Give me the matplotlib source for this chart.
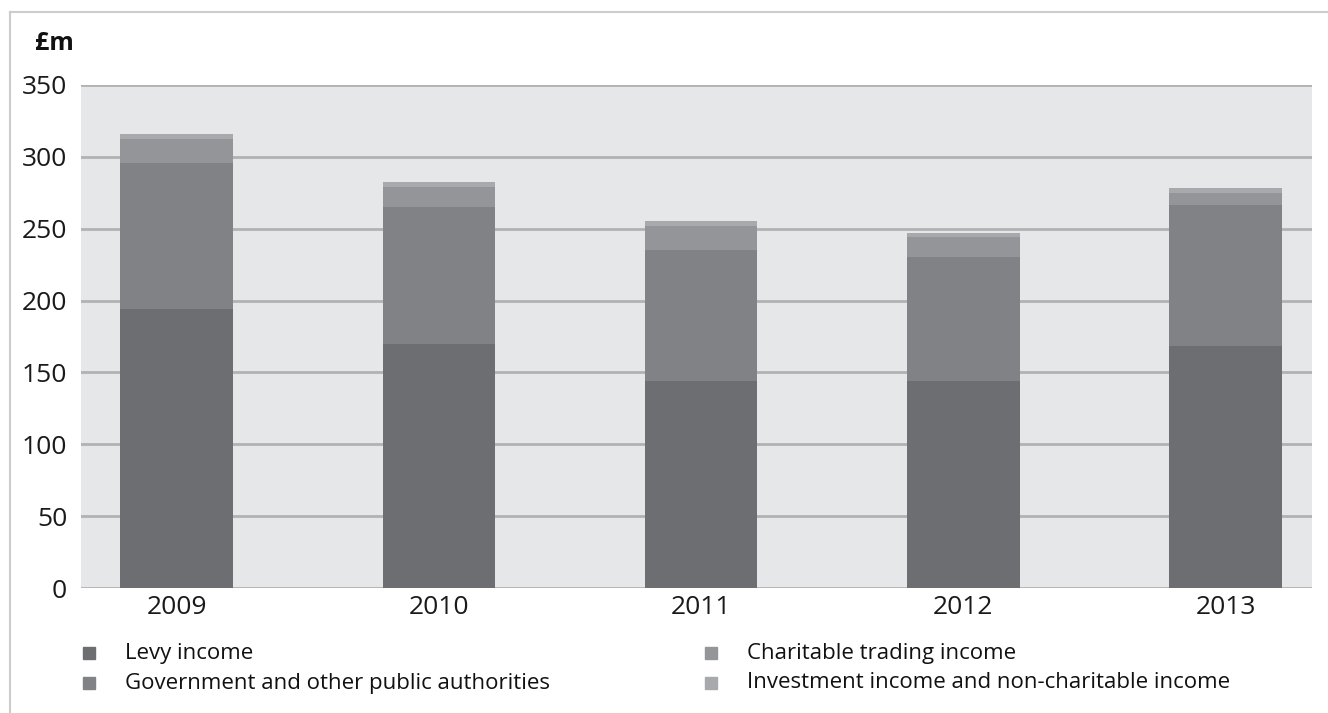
import matplotlib
matplotlib.use("Agg")
import matplotlib.pyplot as plt
from matplotlib.patches import Rectangle
from matplotlib.lines import Line2D
import numpy as np

plt.rcParams['font.family'] = ['Open Sans', 'DejaVu Sans']

years = ["2009", "2010", "2011", "2012", "2013"]
series_names = [
    "Levy income",
    "Government and other public authorities",
    "Charitable trading income",
    "Investment income and non-charitable income",
]
levy = [194, 170, 144, 144, 168.5]
government = [102, 95, 91, 86, 98]
charitable = [16.5, 14, 17, 14, 8.5]
investment = [3.5, 3.5, 3.5, 3, 3.5]
colors = ["#6d6e71", "#808285", "#939598", "#a7a9ac"]
y_ticks = [0, 50, 100, 150, 200, 250, 300, 350]

W, H = 1328, 713
fig = plt.figure(figsize=(W / 100, H / 100), dpi=100)
ax = fig.add_axes([81 / W, (H - 588) / H, (1312 - 81) / W, (588 - 85) / H])
ax.set_facecolor("#e6e7e8")

x = np.arange(len(years))
bottom = np.zeros(len(years))
for vals, col in zip([levy, government, charitable, investment], colors):
    ax.bar(x, vals, width=0.43, bottom=bottom, color=col, zorder=3, linewidth=0)
    bottom += np.array(vals)

ax.set_ylim(0, 350)
ax.set_xlim(-0.365, 4.33)
ax.set_yticks(y_ticks)
ax.set_xticks(x)
ax.set_xticklabels(years)
ax.yaxis.grid(True, color="#b1b2b4", linewidth=2, zorder=1)
ax.set_axisbelow(True)
for s in ax.spines.values():
    s.set_visible(False)
ax.tick_params(axis="both", length=0, labelsize=19, colors="#1a1a1a")
ax.tick_params(axis="y", pad=10)
ax.tick_params(axis="x", pad=5)

fig.text(35 / W, 1 - 43 / H, "£m", fontsize=18, fontweight="bold", va="center", ha="left", color="#111111")

# outer frame lines (top and left)
fig.add_artist(Line2D([10 / W, 1.0], [1 - 12 / H, 1 - 12 / H], transform=fig.transFigure, color="#cccccc", linewidth=1.5))
fig.add_artist(Line2D([10 / W, 10 / W], [0, 1 - 12 / H], transform=fig.transFigure, color="#cccccc", linewidth=1.5))

# legend (two columns, column-wise)
col_x = [83, 705]
row_y = [653, 683]
for i, (name, col) in enumerate(zip(series_names, colors)):
    cx = col_x[i // 2]
    cy = row_y[i % 2]
    fig.add_artist(Rectangle((cx / W, 1 - (cy + 6) / H), 12 / W, 12 / H, transform=fig.transFigure, color=col))
    fig.text((cx + 42) / W, 1 - cy / H, name, fontsize=16, va="center", ha="left", color="#111111")

fig.savefig("out.png", dpi=100)
